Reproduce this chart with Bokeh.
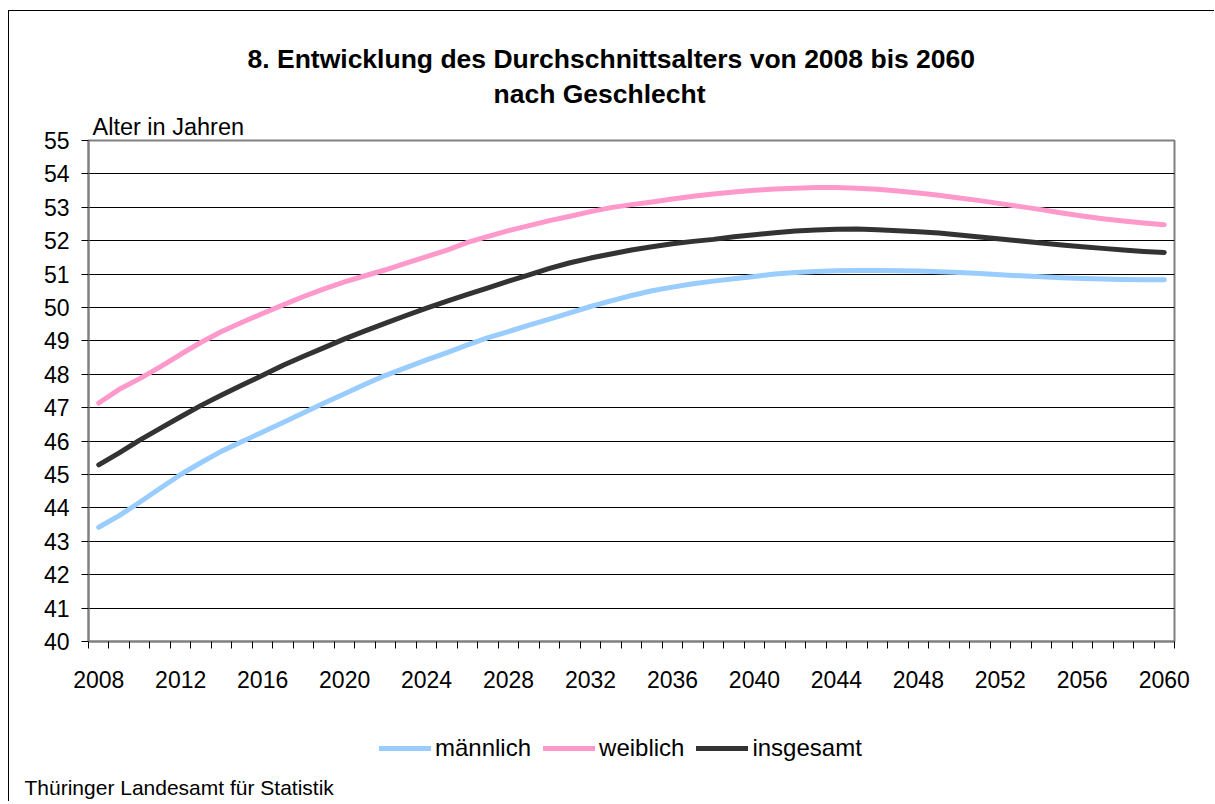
from bokeh.plotting import figure
from bokeh.layouts import column
from bokeh.models import FixedTicker, Range1d, Legend, LegendItem, Title
from bokeh.embed import file_html
from bokeh.resources import INLINE

years = list(range(2008, 2061))

maennlich = [43.42, 43.77, 44.17, 44.59, 45.00, 45.36, 45.70, 45.99, 46.27, 46.56,
             46.85, 47.14, 47.42, 47.70, 47.97, 48.20, 48.43, 48.65, 48.88, 49.10,
             49.28, 49.47, 49.65, 49.84, 50.03, 50.20, 50.36, 50.50, 50.61, 50.71,
             50.79, 50.86, 50.93, 51.00, 51.05, 51.08, 51.10, 51.11, 51.11, 51.10,
             51.09, 51.07, 51.05, 51.02, 50.98, 50.95, 50.92, 50.89, 50.87, 50.85,
             50.84, 50.83, 50.83]

weiblich = [47.14, 47.55, 47.87, 48.22, 48.60, 48.96, 49.28, 49.56, 49.82, 50.08,
            50.33, 50.56, 50.77, 50.95, 51.13, 51.33, 51.52, 51.72, 51.95, 52.13,
            52.30, 52.45, 52.60, 52.73, 52.87, 52.99, 53.08, 53.16, 53.25, 53.33,
            53.40, 53.46, 53.51, 53.55, 53.57, 53.59, 53.59, 53.57, 53.54, 53.49,
            53.43, 53.36, 53.28, 53.20, 53.11, 53.02, 52.93, 52.83, 52.74, 52.66,
            52.59, 52.53, 52.48]

insgesamt = [45.29, 45.65, 46.03, 46.38, 46.73, 47.07, 47.38, 47.68, 47.97, 48.27,
             48.54, 48.80, 49.06, 49.30, 49.53, 49.76, 49.98, 50.19, 50.39, 50.59,
             50.79, 50.98, 51.17, 51.34, 51.48, 51.60, 51.72, 51.82, 51.91, 51.98,
             52.04, 52.12, 52.18, 52.24, 52.29, 52.32, 52.34, 52.35, 52.33, 52.30,
             52.27, 52.23, 52.17, 52.11, 52.05, 51.99, 51.93, 51.87, 51.82, 51.77,
             51.72, 51.68, 51.65]

x_tick_years = list(range(2008, 2061, 4))
y_ticks = list(range(40, 56))

title_lines = ["8. Entwicklung des Durchschnittsalters von 2008 bis 2060", "nach Geschlecht"]
y_title = "Alter in Jahren"
series_names = ["männlich", "weiblich", "insgesamt"]
series_colors = ["#99CCFF", "#FF99CC", "#333333"]
source_note = "Thüringer Landesamt für Statistik"

FONT = "Liberation Sans"
series = [maennlich, weiblich, insgesamt]

p = figure(frame_width=1086, frame_height=501,
           min_border_left=79, min_border_right=40,
           min_border_top=129, min_border_bottom=60,
           x_range=Range1d(2007.5, 2060.5), y_range=Range1d(40, 55),
           output_backend="svg", toolbar_location=None)

p.background_fill_color = "white"
p.border_fill_color = "white"
p.outline_line_color = "#808080"
p.outline_line_width = 2

# x axis
xa = p.xaxis[0]
xa.ticker = FixedTicker(ticks=x_tick_years,
                        minor_ticks=[y - 0.5 for y in range(2008, 2062)])
xa.major_tick_out = 0
xa.major_tick_in = 0
xa.minor_tick_out = 7
xa.minor_tick_in = 0
xa.minor_tick_line_color = "black"
xa.axis_line_color = "#808080"
xa.axis_line_width = 2
xa.major_label_standoff = 22
xa.major_label_text_font = FONT
xa.major_label_text_font_size = "23px"
xa.major_label_text_color = "black"

# y axis
ya = p.yaxis[0]
ya.ticker = FixedTicker(ticks=y_ticks, minor_ticks=[])
ya.major_tick_out = 7
ya.major_tick_in = 0
ya.major_tick_line_color = "black"
ya.axis_line_color = "#808080"
ya.axis_line_width = 2
ya.major_label_standoff = 12
ya.major_label_text_font = FONT
ya.major_label_text_font_size = "23px"
ya.major_label_text_color = "black"

p.xgrid.visible = False
p.ygrid.ticker = FixedTicker(ticks=y_ticks)
p.ygrid.grid_line_color = "black"
p.ygrid.grid_line_width = 1

for vals, col in zip(series, series_colors):
    p.line(years, vals, line_color=col, line_width=5,
           line_cap="round", line_join="round")

# texts above the plot area (stacked outward from the frame)
p.add_layout(Title(text=y_title, align="left", offset=4, standoff=2,
                   text_font=FONT, text_font_size="23.5px",
                   text_font_style="normal", text_color="black"), "above")
p.add_layout(Title(text=title_lines[1], align="left", offset=405, standoff=4,
                   text_font=FONT, text_font_size="26.5px",
                   text_font_style="bold", text_color="black"), "above")
p.add_layout(Title(text=title_lines[0], align="left", offset=159, standoff=1,
                   text_font=FONT, text_font_size="26.5px",
                   text_font_style="bold", text_color="black"), "above")

# lower strip: legend and source note (its frame is aligned with the chart's)
p2 = figure(width=1205, height=100, min_border=0,
            x_range=Range1d(0, 1), y_range=Range1d(0, 1),
            x_axis_type=None, y_axis_type=None,
            output_backend="svg", toolbar_location=None)
p2.outline_line_color = None
p2.background_fill_color = "white"
p2.border_fill_color = "white"

items = []
for name, vals, col in zip(series_names, series, series_colors):
    # same series, outside this strip's view: only its legend swatch is seen
    r = p2.line(years, vals, line_color=col, line_width=5,
                line_cap="round", line_join="round")
    items.append(LegendItem(label=name, renderers=[r]))

legend = Legend(items=items, orientation="horizontal", location=(291, 8),
                glyph_width=52, glyph_height=20, label_standoff=4, spacing=12,
                padding=0, margin=0, border_line_color=None,
                background_fill_alpha=0,
                label_text_font=FONT, label_text_font_size="24px",
                label_text_color="black")
p2.add_layout(legend)

p2.add_layout(Title(text=source_note, align="left", offset=-64, standoff=6,
                    text_font=FONT, text_font_size="21px",
                    text_font_style="normal", text_color="black"), "below")

layout = column(p, p2, spacing=0,
                styles={"border-left": "1px solid #000000",
                        "border-top": "1px solid #000000",
                        "margin-top": "10px", "margin-left": "8px"})

open("out.html", "w").write(file_html(layout, INLINE))
